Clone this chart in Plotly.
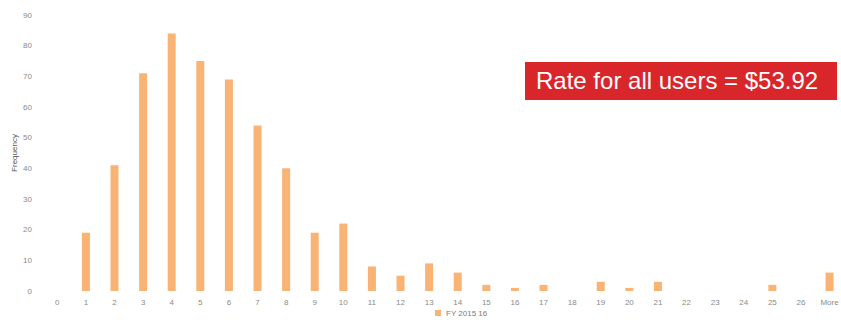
import plotly.graph_objects as go

# Histogram bins (user counts per bin) for FY 2015-16
bins = [str(i) for i in range(27)] + ["More"]
frequency = [0, 19, 41, 71, 84, 75, 69, 54, 40, 19, 22, 8, 5, 9, 6, 2, 1, 2,
             0, 3, 1, 3, 0, 0, 0, 2, 0, 6]
y_ticks = [0, 10, 20, 30, 40, 50, 60, 70, 80, 90]
series_name = "FY 2015 16"
callout = "Rate for all users = $53.92"
bar_color = "#F9B475"

W, H = 841, 324
ML, MR, MT, MB = 43, 0, 15, 33
PW, PH = W - ML - MR, H - MT - MB


def px_x(x):
    return (x - ML) / PW


def px_y(y):
    return (H - MB - y) / PH


fig = go.Figure()
fig.add_trace(go.Bar(
    x=bins, y=frequency, name=series_name,
    marker=dict(color=bar_color, line=dict(width=0)),
))

font_family = "Liberation Sans, Arial, sans-serif"
tick_font = dict(family=font_family, size=8, color="#8a8a8a")

fig.update_layout(
    width=W, height=H,
    margin=dict(l=ML, r=MR, t=MT, b=MB),
    paper_bgcolor="white", plot_bgcolor="white",
    bargap=0.72,
    showlegend=False,
    xaxis=dict(type="category", range=[-0.5, 27.4], showgrid=False, zeroline=False,
               showline=False, ticks="", tickfont=tick_font, ticklabelstandoff=5,
               tickangle=0),
    yaxis=dict(range=[0, 90], tickvals=y_ticks, showgrid=False, zeroline=False,
               showline=False, ticks="", tickfont=tick_font, ticklabelstandoff=10,
               title=dict(text="Frequency", standoff=4,
                          font=dict(family=font_family, size=8, color="#555555"))),
    font=dict(family=font_family),
)

# Compact series key centred under the axis
fig.add_shape(
    type="rect", xref="paper", yref="paper",
    x0=px_x(435), x1=px_x(441), y0=px_y(316), y1=px_y(310),
    fillcolor=bar_color, line=dict(width=0),
)
fig.add_annotation(
    xref="paper", yref="paper",
    x=px_x(444), y=px_y(313), xanchor="left", yanchor="middle",
    text=series_name, showarrow=False,
    font=dict(family=font_family, size=8, color="#7a7a7a"),
)

# Red call-out box with the overall rate
fig.add_shape(
    type="rect", xref="paper", yref="paper",
    x0=px_x(525), x1=px_x(837), y0=px_y(100), y1=px_y(62),
    fillcolor="#D8262B", line=dict(width=0), layer="above",
)
fig.add_annotation(
    xref="paper", yref="paper",
    x=px_x(534), y=px_y(81), xanchor="left", yanchor="middle",
    text=callout, showarrow=False,
    font=dict(family=font_family, size=24, color="white"),
)

fig.write_html("out.html")
